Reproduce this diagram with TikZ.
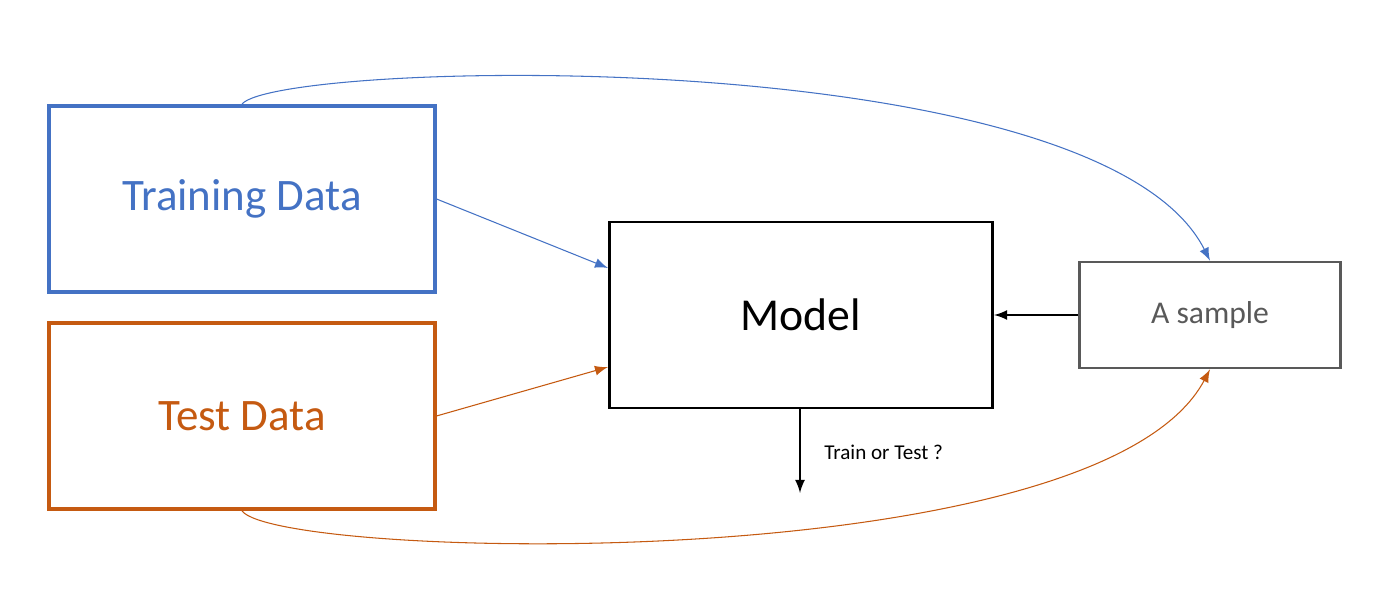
\documentclass[tikz,border=0pt]{standalone}
\usepackage{fontspec}
\setmainfont{Carlito}
\usetikzlibrary{positioning}
\definecolor{trainblue}{RGB}{68,114,196}
\definecolor{testorange}{RGB}{197,90,17}
\definecolor{samplegray}{RGB}{89,89,89}
\begin{document}
\begin{tikzpicture}[%
    x=0.01cm,
    y=-0.01cm,
    >=latex,
    databox/.style={%
      draw,
      line width=1.1pt,
      minimum width=3.85cm,
      minimum height=1.86cm,
      font=\fontsize{12.8}{14}\selectfont},
    link/.style={->, line width=0.3pt}
    ]
    \useasboundingbox (0,0) rectangle (1400,610);
    \node[databox,draw=trainblue,text=trainblue] (train) at (242,199) {Training Data};
    \node[databox,draw=testorange,text=testorange] (test) at (242,416) {Test Data};
    \node[draw,line width=0.8pt,minimum width=3.83cm,minimum height=1.86cm,
          font=\fontsize{13}{15}\selectfont] (model) at (801,315) {Model};
    \node[draw=samplegray,text=samplegray,line width=0.7pt,minimum width=2.61cm,
          minimum height=1.06cm,font=\fontsize{9}{11}\selectfont] (sample) at (1210,315) {A sample};
    \coordinate (out) at (800,493);
    \draw[link,trainblue] (train.east) -- (model.west |- 0,268);
    \draw[link,testorange] (test.east) -- (model.west |- 0,367);
    \draw[link] (sample.west) -- (model.east);
    \draw[link] (model.south -| 800,0) -- (out);
    \node[font=\fontsize{6}{7}\selectfont,anchor=west] (label) at (812,452) {Train or Test ?};
    \draw[link,trainblue] (train.north) .. controls (280,60) and (1100,40) .. (sample.north);
    \draw[link,testorange] (test.south) .. controls (280,560) and (1100,580) .. (sample.south);
\end{tikzpicture}
\end{document}
